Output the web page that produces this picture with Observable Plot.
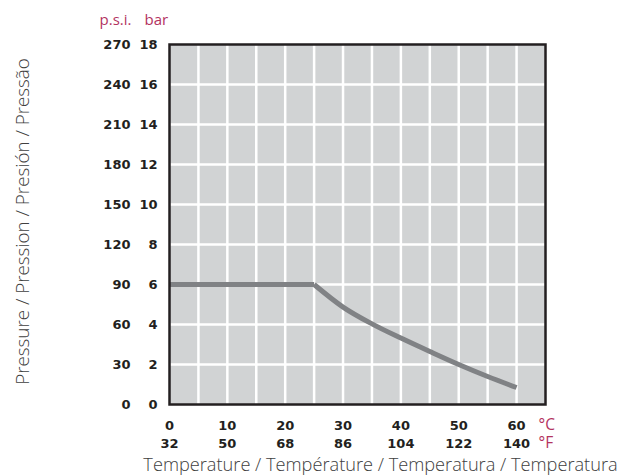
<!DOCTYPE html>
<html>
<head>
<meta charset="utf-8">
<script src="https://cdn.jsdelivr.net/npm/d3@7"></script>
<script src="https://cdn.jsdelivr.net/npm/@observablehq/plot@0.6"></script>
<style>
  html, body { margin: 0; padding: 0; background: #fff; }
  #chart svg { display: block; }
</style>
</head>
<body>
<div id="chart"></div>
<script>
// Data
const tempC = [0, 5, 10, 15, 20, 25, 30, 35, 40, 45, 50, 55, 60];
const pressureBar = [6, 6, 6, 6, 6, 6, 4.87, 4.03, 3.32, 2.65, 2.0, 1.4, 0.85];

const celsiusTicks = [0, 10, 20, 30, 40, 50, 60];
const fahrenheitLabels = ["32", "50", "68", "86", "104", "122", "140"];
const barTicks = [0, 2, 4, 6, 8, 10, 12, 14, 16, 18];
const psiLabels = ["0", "30", "60", "90", "120", "150", "180", "210", "240", "270"];
const xGrid = d3.range(5, 65, 5);
const yGrid = d3.range(2, 18, 2);

const curve = tempC.map((t, i) => ({t, p: pressureBar[i]}));
const flatPart = curve.filter(d => d.t <= 25);
const decayPart = curve.filter(d => d.t >= 25);
const fTicks = celsiusTicks.map((c, i) => ({c, f: fahrenheitLabels[i]}));
const psiTicks = barTicks.map((b, i) => ({b, psi: psiLabels[i]}));

const RED = "#b3335f";
const DARK = "#231f20";
const GREY_TEXT = "#404040";
const NUM_FONT = "DejaVu Sans";
const TITLE_FONT = "Open Sans";

const chart = Plot.plot({
  width: 635,
  height: 475,
  marginLeft: 169,
  marginRight: 90,
  marginTop: 44,
  marginBottom: 71,
  style: {fontFamily: NUM_FONT, background: "#fff", overflow: "visible"},
  x: {domain: [0, 65], axis: null},
  y: {domain: [0, 18], axis: null},
  marks: [
    Plot.frame({fill: "#d1d3d4"}),
    Plot.ruleX(xGrid, {stroke: "#fff", strokeWidth: 2.5, strokeOpacity: 1}),
    Plot.ruleY(yGrid, {stroke: "#fff", strokeWidth: 2.5, strokeOpacity: 1}),
    Plot.line(flatPart, {x: "t", y: "p", stroke: "#808285", strokeWidth: 5, strokeLinecap: "butt"}),
    Plot.line(decayPart, {x: "t", y: "p", stroke: "#808285", strokeWidth: 5, strokeLinecap: "butt", curve: "monotone-x"}),
    Plot.frame({stroke: DARK, strokeWidth: 2.5}),
    // bar tick labels
    Plot.text(psiTicks, {y: "b", text: d => String(d.b), frameAnchor: "left", dx: -12, textAnchor: "end",
      fontWeight: "bold", fontSize: 13, fill: DARK}),
    // psi tick labels
    Plot.text(psiTicks, {y: "b", text: "psi", frameAnchor: "left", dx: -39, textAnchor: "end",
      fontWeight: "bold", fontSize: 13, fill: DARK}),
    // Celsius labels
    Plot.text(fTicks, {x: "c", text: d => String(d.c), frameAnchor: "bottom", lineAnchor: "middle", dy: 21,
      fontWeight: "bold", fontSize: 13, fill: DARK}),
    // Fahrenheit labels
    Plot.text(fTicks, {x: "c", text: "f", frameAnchor: "bottom", lineAnchor: "middle", dy: 39,
      fontWeight: "bold", fontSize: 13, fill: DARK}),
    // units
    Plot.text(["°C"], {frameAnchor: "bottom-right", lineAnchor: "middle", dx: -7, dy: 21, textAnchor: "start",
      fontSize: 15.5, fill: RED, fontFamily: TITLE_FONT}),
    Plot.text(["°F"], {frameAnchor: "bottom-right", lineAnchor: "middle", dx: -7, dy: 39, textAnchor: "start",
      fontSize: 15.5, fill: RED, fontFamily: TITLE_FONT}),
    Plot.text(["p.s.i."], {frameAnchor: "top-left", lineAnchor: "middle", dx: -38, dy: -24, textAnchor: "end",
      fontSize: 15, fill: RED, fontFamily: TITLE_FONT}),
    Plot.text(["bar"], {frameAnchor: "top-left", lineAnchor: "middle", dx: -25, dy: -24, textAnchor: "start",
      fontSize: 15, fill: RED, fontFamily: TITLE_FONT}),
    // axis titles
    Plot.text(["Temperature / Température / Temperatura / Temperatura"], {
      frameAnchor: "bottom", lineAnchor: "middle", textAnchor: "middle", dx: 23, dy: 61,
      fontSize: 18.2, fill: GREY_TEXT, fontFamily: TITLE_FONT, fontWeight: 300}),
    Plot.text(["Pressure / Pression / Presión / Pressão"], {
      frameAnchor: "left", lineAnchor: "middle", textAnchor: "middle", dx: -147, dy: -3, rotate: -90,
      fontSize: 18.8, fill: GREY_TEXT, fontFamily: TITLE_FONT, fontWeight: 300})
  ]
});

document.getElementById("chart").appendChild(chart);
</script>
</body>
</html>
